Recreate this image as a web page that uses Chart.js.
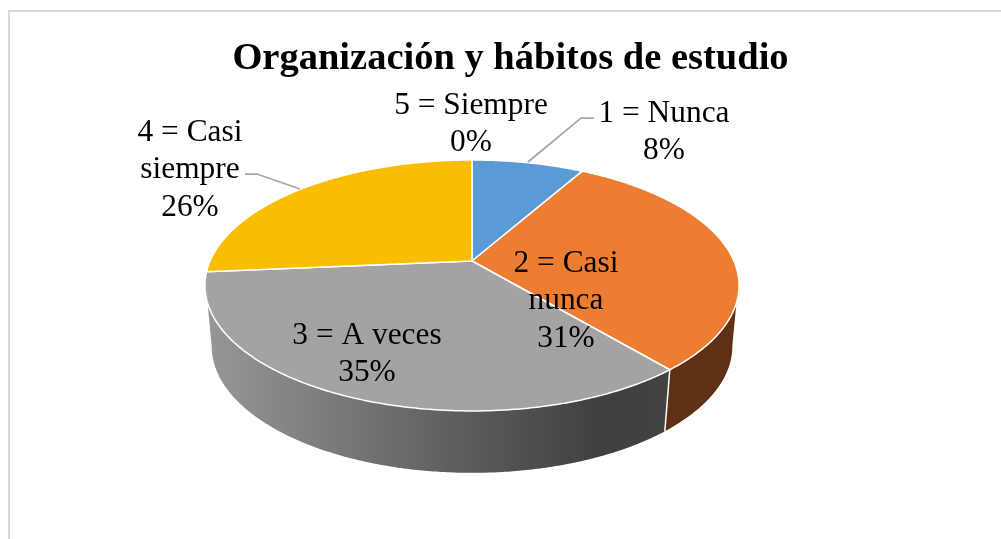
<!DOCTYPE html>
<html lang="es">
<head>
<meta charset="utf-8">
<title>Organización y hábitos de estudio</title>
<style>html,body{margin:0;padding:0;background:#fff}canvas{display:block}</style>
<script src="https://cdn.jsdelivr.net/npm/chart.js@4/dist/chart.umd.min.js"></script>
</head>
<body>
<canvas id="c" width="1001" height="539"></canvas>
<script>
const chartTitle = 'Organización y hábitos de estudio';
const categories = ['1 = Nunca', '2 = Casi nunca', '3 = A veces', '4 = Casi siempre', '5 = Siempre'];
const values = [8.2, 30.7, 34.7, 26.4, 0];
const sliceColors = ['#5B9BD5', '#EC7D31', '#A3A3A3', '#FBBD00', '#4472C4'];
const labelLines = [['1 = Nunca'], ['2 = Casi', 'nunca'], ['3 = A veces'], ['4 = Casi', 'siempre'], ['5 = Siempre']];

// layout only: label anchors and leader paths
const labelAnchors = [[664, 114], [566, 264], [367, 336], [190, 133], [471, 106]];
const leaders = [[[528, 162], [581, 118], [594, 118]], null, null, [[245, 174], [257, 174], [300, 189]], null];
const LINE = 37.2;

// perspective projection of the pie disc
const P = {cx: 472, cy: 261, a: 120.7, b: 261.9, k: -0.195, depthY: 60.4, shrinkX: 0.975, shrinkY: 1.01};
const D = Math.PI / 180;
const TOP_RANGE = [19 * D, 161 * D];
const BOT_RANGE = [11 * D, 169 * D];

function pt(ang, lower) {
  const u = Math.cos(ang), v = Math.sin(ang), w = 1 + P.k * v;
  return [P.cx + (lower ? P.shrinkX : 1) * P.b * u / w,
          P.cy + (lower ? P.depthY : 0) + (lower ? P.shrinkY : 1) * P.a * v / w];
}
function rim(ctx, a0, a1, lower, first) {
  const n = Math.max(2, Math.ceil(Math.abs(a1 - a0) / (0.5 * D)));
  for (let i = 0; i <= n; i++) {
    const p = pt(a0 + (a1 - a0) * i / n, lower);
    if (first && i === 0) ctx.moveTo(p[0], p[1]); else ctx.lineTo(p[0], p[1]);
  }
}
function wallFill(ctx, i) {
  const g = ctx.createLinearGradient(207, 0, 739, 0);
  if (i === 2) {
    g.addColorStop(0, '#979797');
    g.addColorStop(0.5, '#5a5a5a');
    g.addColorStop(0.74, '#404040');
    g.addColorStop(1, '#444444');
    return g;
  }
  if (i === 1) return '#5F3114';
  return '#333';
}

const pie3d = {
  id: 'pie3d',
  beforeDraw(chart) {
    const ctx = chart.ctx;
    ctx.save();
    ctx.strokeStyle = '#D9D9D9';
    ctx.lineWidth = 2;
    ctx.beginPath();
    ctx.moveTo(9, 539); ctx.lineTo(9, 11); ctx.lineTo(1001, 11);
    ctx.stroke();
    ctx.restore();
  },
  beforeDatasetDraw(chart, args) {
    const ctx = chart.ctx, arcs = args.meta.data;
    ctx.save();
    ctx.lineJoin = 'round';
    // side wall
    arcs.forEach((el, i) => {
      const s = el.startAngle, e = el.endAngle;
      const t0 = Math.max(s, TOP_RANGE[0]), t1 = Math.min(e, TOP_RANGE[1]);
      const b0 = Math.max(s, BOT_RANGE[0]), b1 = Math.min(e, BOT_RANGE[1]);
      if (t1 <= t0 || b1 <= b0) return;
      ctx.beginPath();
      rim(ctx, t0, t1, false, true);
      rim(ctx, b1, b0, true, false);
      ctx.closePath();
      ctx.fillStyle = wallFill(ctx, i);
      ctx.fill();
    });
    // edge between wall faces
    arcs.forEach(el => {
      const a = el.endAngle;
      if (a > TOP_RANGE[0] && a < TOP_RANGE[1] && el.endAngle > el.startAngle) {
        const p = pt(a, false), q = pt(a, true);
        ctx.beginPath(); ctx.moveTo(p[0], p[1]); ctx.lineTo(q[0], q[1]);
        ctx.strokeStyle = '#fff'; ctx.lineWidth = 1.5; ctx.stroke();
      }
    });
    // top face
    arcs.forEach((el, i) => {
      if (el.endAngle - el.startAngle <= 0) return;
      ctx.beginPath();
      ctx.moveTo(P.cx, P.cy);
      rim(ctx, el.startAngle, el.endAngle, false, false);
      ctx.closePath();
      ctx.fillStyle = sliceColors[i];
      ctx.fill();
      ctx.strokeStyle = '#fff';
      ctx.lineWidth = 1.5;
      ctx.stroke();
    });
    ctx.restore();
    return false;
  },
  afterDatasetsDraw(chart) {
    const ctx = chart.ctx;
    const total = values.reduce((a, b) => a + b, 0);
    ctx.save();
    ctx.strokeStyle = '#A6A6A6';
    ctx.lineWidth = 1.75;
    leaders.forEach(path => {
      if (!path) return;
      ctx.beginPath();
      path.forEach((p, j) => j ? ctx.lineTo(p[0], p[1]) : ctx.moveTo(p[0], p[1]));
      ctx.stroke();
    });
    ctx.fillStyle = '#000';
    ctx.font = '31.4px "Liberation Serif", "Times New Roman", serif';
    ctx.textAlign = 'center';
    ctx.textBaseline = 'middle';
    values.forEach((v, i) => {
      const lines = labelLines[i].concat(Math.round(v / total * 100) + '%');
      lines.forEach((t, j) => ctx.fillText(t, labelAnchors[i][0], labelAnchors[i][1] + j * LINE));
    });
    ctx.restore();
  }
};

new Chart(document.getElementById('c'), {
  type: 'pie',
  data: {labels: categories, datasets: [{data: values, backgroundColor: sliceColors, borderColor: '#fff'}]},
  options: {
    responsive: false,
    animation: false,
    layout: {padding: {left: 20}},
    plugins: {
      legend: {display: false},
      tooltip: {enabled: false},
      title: {
        display: true,
        text: chartTitle,
        color: '#000',
        font: {family: '"Liberation Serif", "Times New Roman", serif', size: 38.5, weight: 'bold', lineHeight: 1.2},
        padding: {top: 36, bottom: 0}
      }
    }
  },
  plugins: [pie3d]
});
</script>
</body>
</html>
